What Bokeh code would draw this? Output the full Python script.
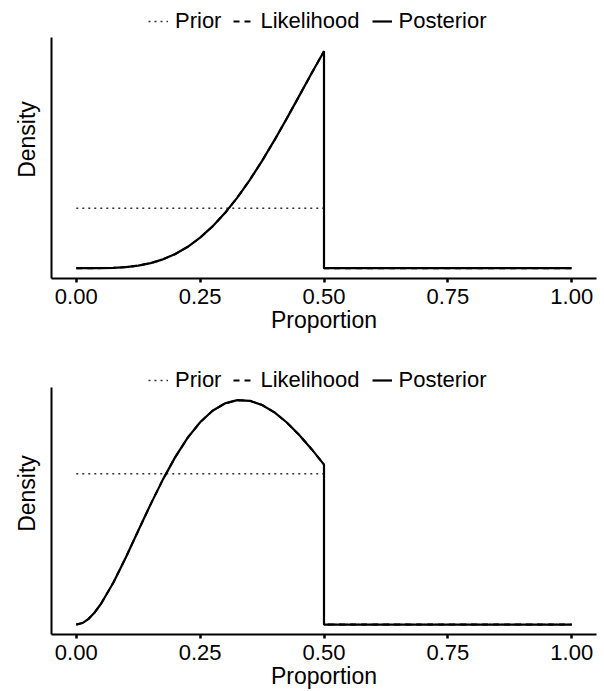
from bokeh.plotting import figure
from bokeh.layouts import column
from bokeh.models import Range1d, Legend, LegendItem, FixedTicker
from bokeh.embed import file_html
from bokeh.resources import INLINE

# ---- data ----
prop = [0.0, 0.0125, 0.025, 0.0375, 0.05, 0.075, 0.1, 0.125, 0.15, 0.175, 0.2, 0.225, 0.25,
        0.275, 0.3, 0.325, 0.35, 0.375, 0.4, 0.425, 0.45, 0.475, 0.5, 0.5, 1.0]

post_top = [0.0, 0.0, 0.0002, 0.0008, 0.0026, 0.0126, 0.0375, 0.0866, 0.1695, 0.2958, 0.4746,
            0.7134, 1.0183, 1.3931, 1.8394, 2.3558, 2.9383, 3.580, 4.271, 4.999,
            5.749, 6.503, 7.241, 0.0, 0.0]

post_bot = [0.0, 0.0202, 0.0767, 0.1638, 0.2764, 0.5590, 0.8907, 1.2434, 1.5944, 1.9259, 2.2242,
            2.4792, 2.6845, 2.8364, 2.9334, 2.9766, 2.9685, 2.9129, 2.8150, 2.6804,
            2.5155, 2.3269, 2.1211, 0.0, 0.0]

prior_x = [0.0, 0.5, 0.5, 1.0]
prior_y = [2.0, 2.0, 0.0, 0.0]

x_ticks = [0.0, 0.25, 0.5, 0.75, 1.0]
tick_labels = {0.0: "0.00", 0.25: "0.25", 0.5: "0.50", 0.75: "0.75", 1.0: "1.00"}
legend_labels = ["Prior", "Likelihood", "Posterior"]

FONT = "Liberation Sans"


def make_panel(post, height, border_bottom, y_lo, y_hi, axis_top, legend_y):
    p = figure(width=604, height=height, output_backend="svg", toolbar_location=None,
               x_range=Range1d(-0.05, 1.05), y_range=Range1d(y_lo, y_hi),
               min_border_left=51, min_border_right=8,
               min_border_top=0, min_border_bottom=border_bottom)
    p.outline_line_color = None
    p.grid.visible = False
    p.background_fill_color = "white"

    lik = p.line(prop, post, line_color="black", line_width=2, line_dash="6 5")
    pri = p.line(prior_x, prior_y, line_color="#333333", line_width=1.4, line_dash="2 4")
    pos = p.line(prop, post, line_color="black", line_width=2.2)

    xa = p.xaxis[0]
    xa.ticker = FixedTicker(ticks=x_ticks)
    xa.major_label_overrides = tick_labels
    xa.axis_label = "Proportion"
    xa.axis_label_text_font = FONT
    xa.axis_label_text_font_style = "normal"
    xa.axis_label_text_font_size = "23px"
    xa.axis_label_text_color = "black"
    xa.axis_label_standoff = 0
    xa.major_label_text_font = FONT
    xa.major_label_text_font_size = "22px"
    xa.major_label_text_color = "black"
    xa.major_label_standoff = 6
    xa.axis_line_width = 2
    xa.axis_line_color = "black"
    xa.major_tick_line_width = 2.5
    xa.major_tick_line_color = "black"
    xa.major_tick_out = 4
    xa.major_tick_in = 0
    xa.minor_tick_line_color = None

    ya = p.yaxis[0]
    ya.ticker = FixedTicker(ticks=[])
    ya.bounds = (y_lo, axis_top)
    ya.axis_label = "Density"
    ya.axis_label_text_font = FONT
    ya.axis_label_text_font_style = "normal"
    ya.axis_label_text_font_size = "23px"
    ya.axis_label_text_color = "black"
    ya.axis_label_standoff = 12
    ya.major_tick_line_color = None
    ya.minor_tick_line_color = None
    ya.axis_line_width = 2
    ya.axis_line_color = "black"

    legend = Legend(items=[LegendItem(label=legend_labels[0], renderers=[pri]),
                           LegendItem(label=legend_labels[1], renderers=[lik]),
                           LegendItem(label=legend_labels[2], renderers=[pos])],
                    orientation="horizontal", location=(97, legend_y),
                    padding=0, margin=0, spacing=12, label_standoff=7,
                    glyph_width=20, glyph_height=22, label_height=22,
                    label_text_font=FONT, label_text_font_size="22px",
                    label_text_color="black",
                    border_line_color=None, background_fill_alpha=0)
    p.add_layout(legend, "center")
    return p


top = make_panel(post_top, 352, 74, -0.344, 8.932, 7.698, 244)
bot = make_panel(post_bot, 339, 55, -0.1317, 3.609, 3.148, 241)

layout = column(top, bot, spacing=0)
open("out.html", "w").write(file_html(layout, INLINE))
